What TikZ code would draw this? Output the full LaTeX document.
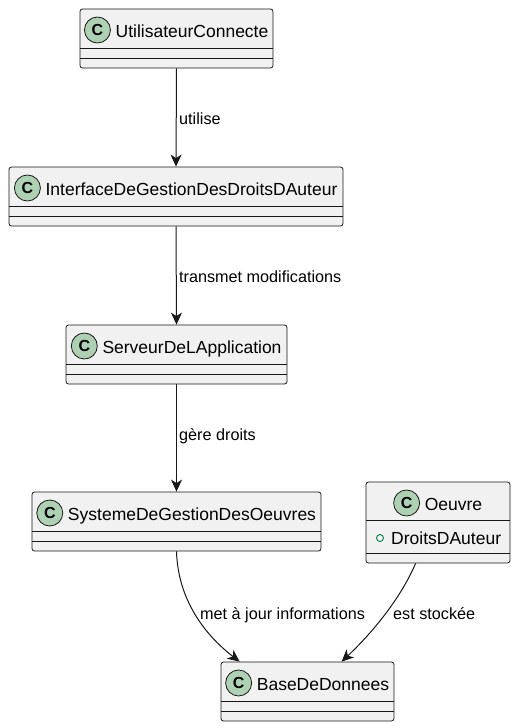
\documentclass[tikz,border=0pt]{standalone}
\usepackage{fontspec}
\setmainfont{Liberation Sans}
\usetikzlibrary{arrows.meta,calc}
\definecolor{boxfill}{HTML}{F1F1F1}
\definecolor{boxline}{HTML}{181818}
\definecolor{circfill}{HTML}{ADD1B2}
\definecolor{attrgreen}{HTML}{038048}
\newcommand\namefont{\fontsize{17.5}{20}\selectfont}
\newcommand\umlclass[6]{%
  \node[classbox, minimum width={(#5-#3)*1pt}, minimum height={(#6-#4)*1pt}] (#1) at ({(#3+#5)/2},{(#4+#6)/2}) {};
  \draw[sep] (#3,#4+39) -- (#5,#4+39);
  \draw[sep] (#3,#6-10) -- (#5,#6-10);
  \node[nametext, anchor=base] (#1-t) at ({(#3+#5)/2+15.5},#4+28) {#2};
  \node[spot] (#1-c) at ($(#1-t.base west)+(-18,-7)$) {C};
}
\begin{document}
\begin{tikzpicture}[x=1pt,y=-1pt,
  classbox/.style={draw=boxline, fill=boxfill, line width=0.8pt, rounded corners=2.5pt, inner sep=0pt},
  sep/.style={draw=boxline, line width=0.7pt},
  spot/.style={circle, draw=boxline, fill=circfill, line width=0.8pt, minimum size=26pt, inner sep=0pt, font=\fontsize{16}{16}\selectfont\bfseries},
  nametext/.style={inner sep=0pt, font=\namefont, text=black},
  lbl/.style={inner sep=0pt, anchor=base west, font=\fontsize{16.2}{18}\selectfont, text=black},
  arr/.style={draw=boxline, line width=1pt, -{Stealth[length=12pt,width=11pt,inset=3.5pt]}}]
\useasboundingbox[fill=white] (0,0) rectangle (519,728);

\umlclass{user}{UtilisateurConnecte}{80}{9}{273}{68}
\umlclass{iface}{InterfaceDeGestionDesDroitsDAuteur}{9}{167}{343}{226}
\umlclass{serv}{ServeurDeLApplication}{66}{325}{287}{384}
\umlclass{sys}{SystemeDeGestionDesOeuvres}{32}{492}{321}{551}
\umlclass{base}{BaseDeDonnees}{221}{662}{394}{721}

% Oeuvre with one attribute
\node[classbox, minimum width=144pt, minimum height=81pt] (oeuvre) at (438,522.5) {};
\draw[sep] (366,520) -- (510,520);
\draw[sep] (366,553) -- (510,553);
\node[nametext, anchor=base] (oeuvre-t) at (453.5,510) {Oeuvre};
\node[spot] (oeuvre-c) at ($(oeuvre-t.base west)+(-18,-7)$) {C};
\node[circle, draw=attrgreen, line width=0.9pt, minimum size=7pt, inner sep=0pt] (oeuvre-a) at (380,538) {};
\node[nametext, anchor=base west] (oeuvre-at) at (391,544.5) {DroitsDAuteur};

% connectors
\draw[arr] (user.south) -- (iface.north);
\node[lbl] (l1) at (179,124) {utilise};
\draw[arr] (iface.south) -- (serv.north);
\node[lbl] (l2) at (179,282) {transmet modifications};
\draw[arr] (serv.south) -- (sys.north);
\node[lbl] (l3) at (179,440) {gère droits};
\draw[arr] (sys.south) .. controls (178,600) and (205,635) .. ($(base.north west)+(19,0)$);
\node[lbl] (l4) at (200,619) {met à jour informations};
\draw[arr] ($(oeuvre.south west)+(50,0)$) .. controls (400,600) and (370,635) .. ($(base.north west)+(121,0)$);
\node[lbl] (l5) at (393,619) {est stockée};
\end{tikzpicture}
\end{document}
